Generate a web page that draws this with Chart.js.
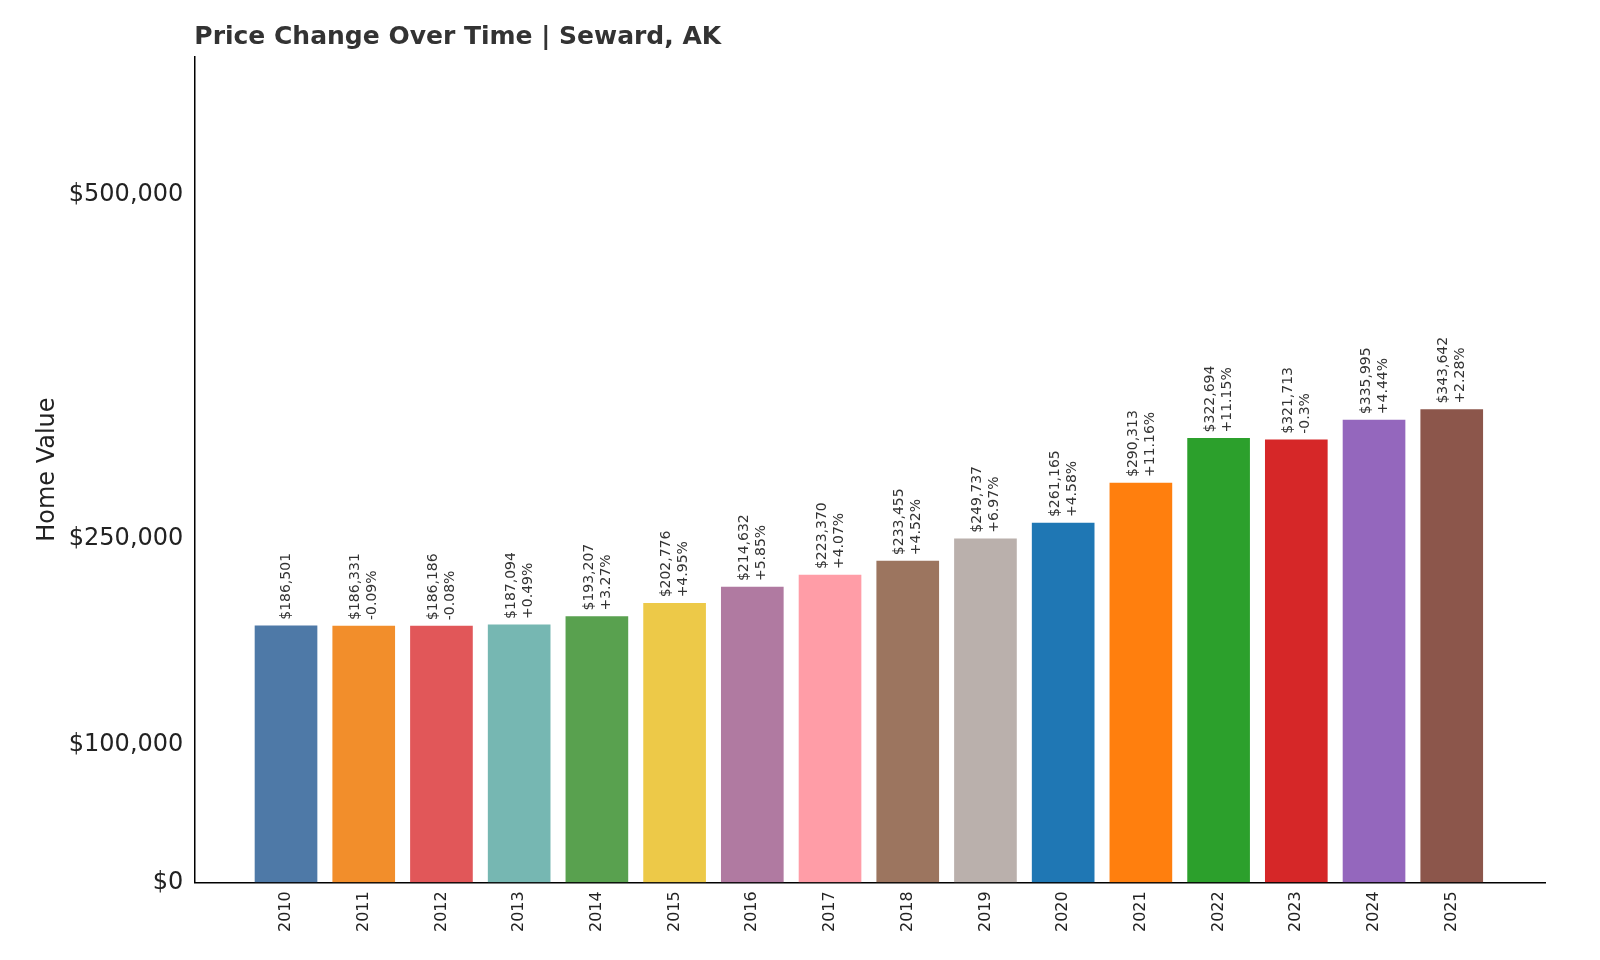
<!DOCTYPE html>
<html><head>
<script src="https://cdn.jsdelivr.net/npm/chart.js@4"></script>
<style>body{margin:0;background:#fff}#wrap{width:1600px;height:960px;position:relative}</style>
</head><body><div id="wrap"><canvas id="c"></canvas></div>
<script>
const years = ['2010','2011','2012','2013','2014','2015','2016','2017','2018','2019','2020','2021','2022','2023','2024','2025'];
const values = [186501,186331,186186,187094,193207,202776,214632,223370,233455,249737,261165,290313,322694,321713,335995,343642];
const changes = ['','-0.09%','-0.08%','+0.49%','+3.27%','+4.95%','+5.85%','+4.07%','+4.52%','+6.97%','+4.58%','+11.16%','+11.15%','-0.3%','+4.44%','+2.28%'];
const colors = ['#4e79a7','#f28e2b','#e15759','#76b7b2','#59a14f','#edc948','#b07aa1','#ff9da7','#9c755f','#bab0ac','#1f77b4','#ff7f0e','#2ca02c','#d62728','#9467bd','#8c564b'];
const yTicks = [0,100000,250000,500000];
const titleText = 'Price Change Over Time | Seward, AK';

const labelPlugin = {
  id: 'barLabels',
  afterDatasetsDraw(chart) {
    const ctx = chart.ctx, meta = chart.getDatasetMeta(0);
    ctx.save();
    ctx.font = '14px "DejaVu Sans"';
    ctx.fillStyle = '#333';
    meta.data.forEach((bar, i) => {
      ctx.save();
      ctx.translate(bar.x, bar.y - 6);
      ctx.rotate(-Math.PI / 2);
      ctx.textAlign = 'left';
      ctx.textBaseline = 'middle';
      const s = '$' + values[i].toLocaleString('en-US');
      if (changes[i]) {
        ctx.fillText(s, 0, -8);
        ctx.fillText(changes[i], 0, 9);
      } else ctx.fillText(s, 0, 0);
      ctx.restore();
    });
    // title aligned with the plot area
    ctx.font = 'bold 25px "DejaVu Sans"';
    ctx.fillStyle = '#333';
    ctx.textAlign = 'left';
    ctx.textBaseline = 'alphabetic';
    ctx.fillText(titleText, chart.chartArea.left, 44);
    ctx.restore();
  }
};

new Chart(document.getElementById('c'), {
  type: 'bar',
  data: { datasets: [{ data: values.map((v, i) => ({ x: i, y: v })), backgroundColor: colors, barThickness: 62 }] },
  options: {
    responsive: true, maintainAspectRatio: false, animation: false,
    layout: { padding: { left: 29, right: 55, top: 57, bottom: 25 } },
    plugins: { legend: { display: false }, tooltip: { enabled: false } },
    scales: {
      x: { type: 'linear', min: -1.18, max: 16.2, offset: false,
        afterBuildTicks: s => { s.ticks = years.map((y, i) => ({ value: i })); },
        ticks: { callback: v => years[v], maxRotation: 90, minRotation: 90, color: '#222', font: { size: 16, family: '"DejaVu Sans"' } },
        grid: { display: false, drawTicks: true, tickLength: 6 }, border: { color: '#000', width: 1.5 } },
      y: { min: 0, max: 600000,
        afterBuildTicks: s => { s.ticks = yTicks.map(v => ({ value: v })); },
        ticks: { callback: v => '$' + v.toLocaleString('en-US'), color: '#222', font: { size: 24, family: '"DejaVu Sans"' } },
        title: { display: true, text: 'Home Value', color: '#222', font: { size: 24, family: '"DejaVu Sans"' } },
        grid: { display: false, drawTicks: true, tickLength: 8 }, border: { color: '#000', width: 1.5 } }
    }
  },
  plugins: [labelPlugin]
});
</script></body></html>
